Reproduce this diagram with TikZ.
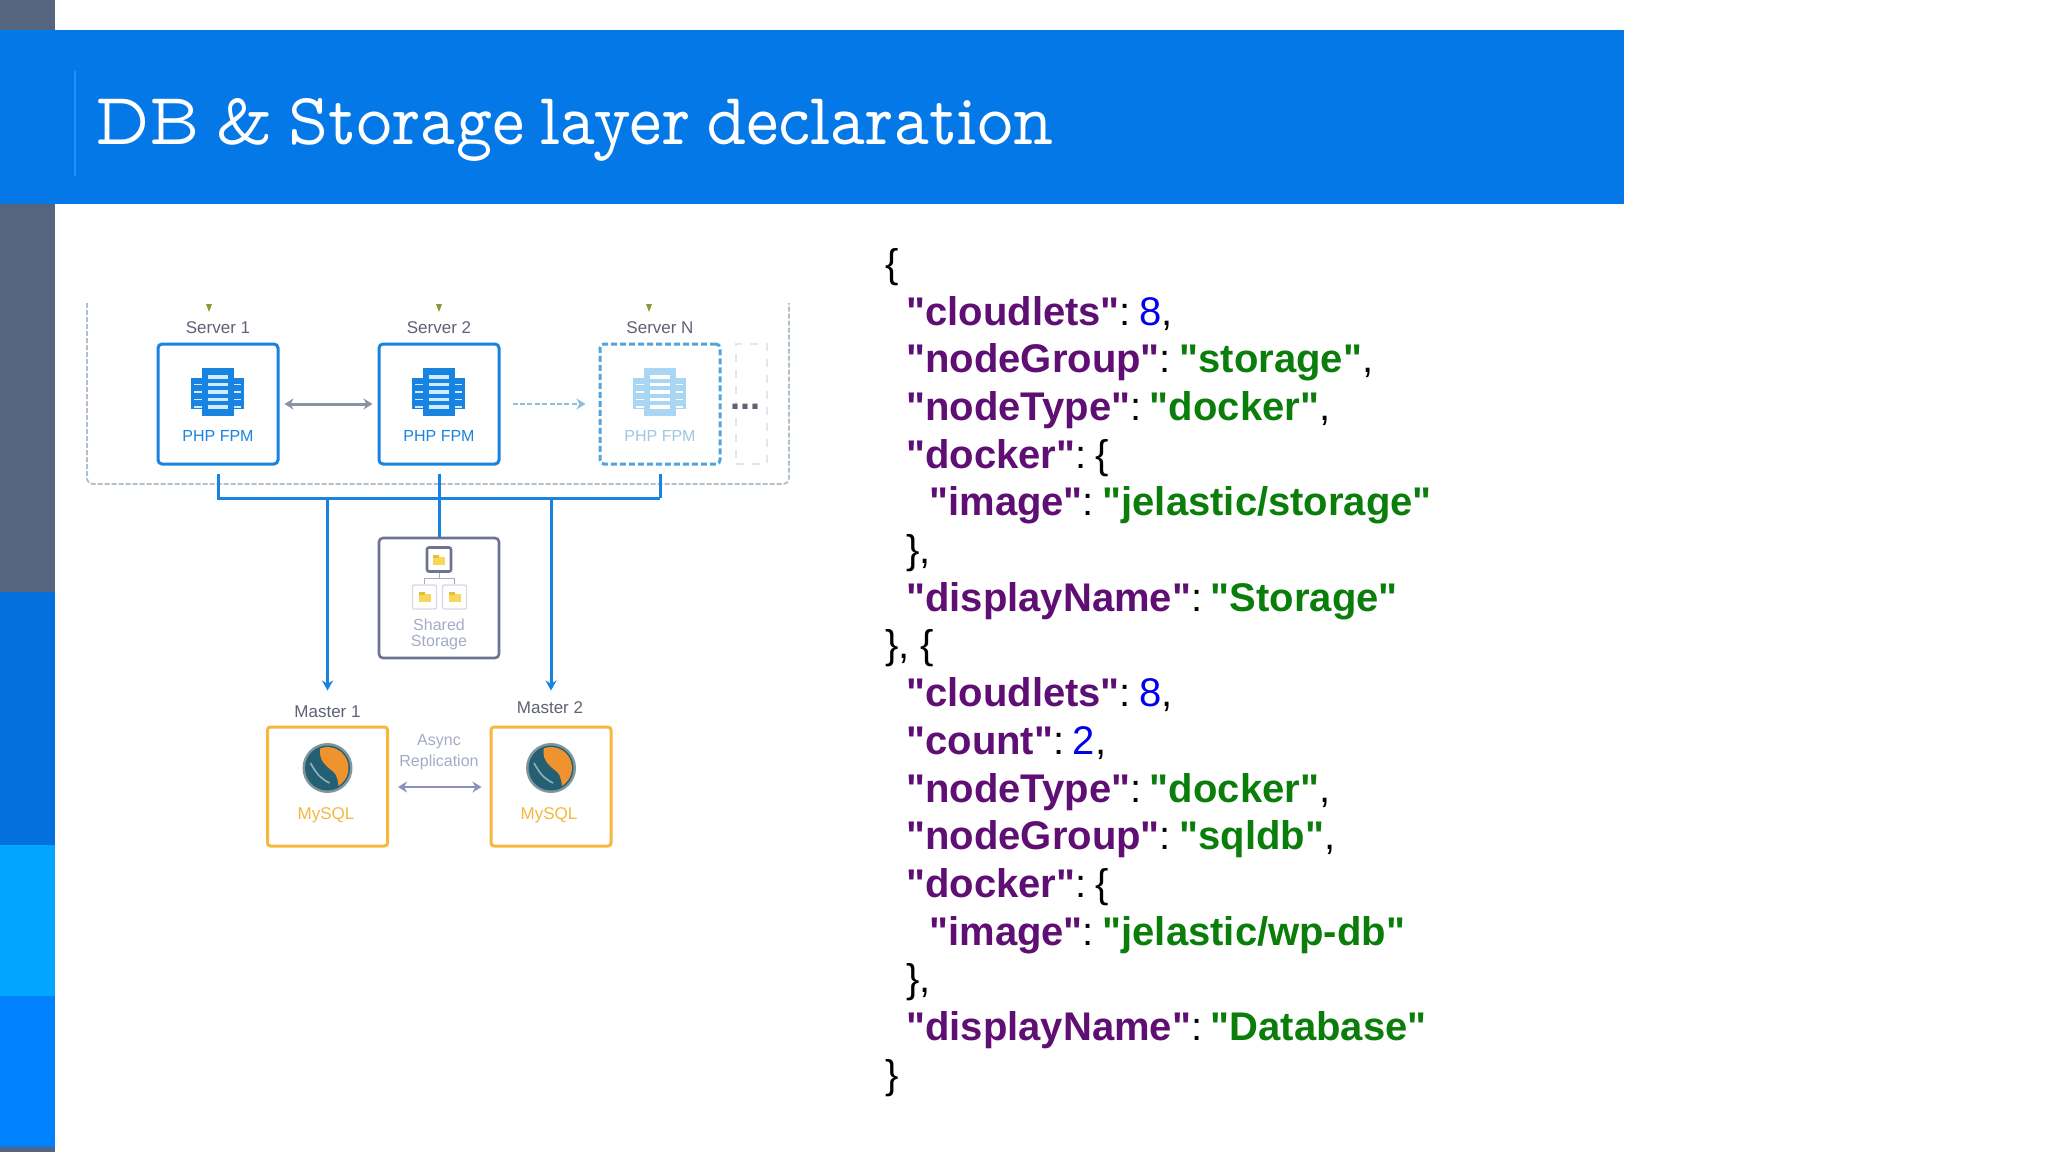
\documentclass[tikz,border=0pt]{standalone}
\usepackage{fontspec}
\setmainfont{Liberation Sans}
\newfontfamily\codefont{Liberation Sans}
\usetikzlibrary{arrows.meta}
\definecolor{slate}{HTML}{56657F}
\definecolor{bannerblue}{HTML}{0478E6}
\definecolor{sideblue}{HTML}{0470DE}
\definecolor{sidecyan}{HTML}{00A6FF}
\definecolor{sidemid}{HTML}{0082FF}
\definecolor{titlerule}{HTML}{1A92FF}
\definecolor{linkblue}{HTML}{1883E0}
\definecolor{srvtext}{HTML}{5E6274}
\definecolor{keyc}{HTML}{5F0F73}
\definecolor{strc}{HTML}{0A7D0A}
\definecolor{numc}{HTML}{0000EE}
\definecolor{ambr}{HTML}{F5B83D}
\definecolor{lavtext}{HTML}{A5ABC8}
\definecolor{lavarrow}{HTML}{8F8FC4}
\definecolor{storeln}{HTML}{6E7391}
\definecolor{grayarrow}{HTML}{8A92A5}
\definecolor{paleblue}{HTML}{A9D6F2}
\definecolor{palearrow}{HTML}{8AC0DC}
\definecolor{paletext}{HTML}{9FC8E0}
\definecolor{dashbox}{HTML}{52A5D8}
\definecolor{clusterln}{HTML}{B0C0CC}
\definecolor{morebox}{HTML}{DCE8EF}
\definecolor{filecol}{HTML}{F7D75A}
\definecolor{filedark}{HTML}{E8BE30}
\definecolor{logoteal}{HTML}{245F73}
\definecolor{logoring}{HTML}{7F979C}
\definecolor{logoorange}{HTML}{F0922E}
\definecolor{logolight}{HTML}{8FB4C0}
\definecolor{ticko}{HTML}{8A9A3A}
\definecolor{slatcol}{HTML}{CFEBFF}
\newcommand{\K}[1]{\textcolor{keyc}{\bfseries #1}:\hspace{4.3pt}}
\newcommand{\V}[1]{\textcolor{strc}{\bfseries #1}}
\newcommand{\N}[1]{\textcolor{numc}{#1}}
\newcommand{\tsp}{\hspace{-4.2pt} }
% server rack icon
\newcommand{\rackicon}[4]{%
\begin{scope}[shift={(#1,#2)}]
\fill[#3] (-27,-14) rectangle (26,17);
\foreach \yy in {-7.5,0,7.5,15}{\fill[#4] (-24,\yy-.8) rectangle (23,\yy+.8);}
\fill[#3] (-16,-24) rectangle (16,24);
\foreach \yy in {-15,-7.5,0,7.5,15}{\fill[#4] (-10,\yy-1.7) rectangle (10,\yy+1.7);}
\end{scope}}
% database logo
\newcommand{\dblogo}[2]{%
\begin{scope}[shift={(#1,#2)}]
\fill[logoring] (0,0) circle (25);
\fill[logoteal] (0,0) circle (22.5);
\begin{scope}
\clip (0,0) circle (21);
\fill[logoorange] (-6,-24) .. controls (-11,-10) and (-3,-3) .. (5,3) .. controls (11,8) and (10,14) .. (12,24) -- (26,24) -- (26,-24) -- cycle;
\draw[logolight,line width=.8pt] (-17,-5) .. controls (-12,4) and (-8,10) .. (2,15);
\end{scope}
\end{scope}}
% small file card
\newcommand{\filecard}[5]{%
\node[draw=#3,line width=#4,fill=white,rounded corners=1pt,minimum width=12pt,minimum height=12pt,inner sep=0pt] (#5) at (#1,#2) {};
\fill[filecol] (#1-6,#2-3) rectangle (#1+6,#2+5);
\fill[filedark] (#1-6,#2-5) rectangle (#1,#2-2);
}
\tikzset{
  srvbox/.style={draw=linkblue,line width=1.5pt,rounded corners=2pt,minimum width=60pt,minimum height=60pt,inner sep=0pt},
  srvdash/.style={srvbox,draw=dashbox,dash pattern=on 3pt off 1.5pt},
  storebox/.style={draw=storeln,line width=1.3pt,rounded corners=2pt,minimum width=60pt,minimum height=60pt,inner sep=0pt},
  dbbox/.style={draw=ambr,line width=1.5pt,rounded corners=1.5pt,minimum width=60pt,minimum height=59.5pt,inner sep=0pt},
  lab/.style={font=\fontsize{8.5pt}{9pt}\selectfont,text=srvtext,inner sep=0pt},
  phplab/.style={font=\fontsize{8pt}{9pt}\selectfont,text=linkblue,inner sep=0pt},
  dblab/.style={font=\fontsize{8.5pt}{9pt}\selectfont,text=ambr,inner sep=0pt},
  softlab/.style={font=\fontsize{8pt}{9pt}\selectfont,text=lavtext,inner sep=0pt},
  busline/.style={draw=linkblue,line width=1.5pt},
  busarrow/.style={busline,-{Stealth[length=5pt,width=5.5pt]}},
  code/.style={font=\codefont\fontsize{20pt}{24pt}\selectfont,anchor=base west,inner sep=0pt},
  titletext/.style={font=\fontfamily{lmvtt}\fontsize{37pt}{40pt}\selectfont,text=white,anchor=base west,inner sep=0pt},
  tick/.style={fill=ticko}
}
\begin{document}
\begin{tikzpicture}[x=.5pt,y=-.5pt]
\useasboundingbox (0,0) rectangle (2048,1152);
\fill[white] (0,0) rectangle (2048,1152);
% side strip
\fill[slate] (0,0) rectangle (55,592);
\fill[sideblue] (0,592) rectangle (55,845);
\fill[sidecyan] (0,845) rectangle (55,996);
\fill[sidemid] (0,996) rectangle (55,1147);
\fill[slate] (0,1147) rectangle (55,1152);
% banner
\fill[bannerblue] (0,30) rectangle (1624,204);
\draw[titlerule,line width=.8pt] (75,71) -- (75,176);
\node[titletext] (title) at (95,144) {\scalebox{.93}[1]{DB\tsp \&\tsp Storage\tsp layer\tsp declaration}};

% outer cluster outline
\coordinate (olt) at (87,303);
\coordinate (olb) at (87,484);
\coordinate (orb) at (789,484);
\coordinate (ort) at (789,303);
\draw[draw=clusterln,line width=.9pt,dash pattern=on 2.5pt off 1pt,rounded corners=3pt] (olt) -- (olb) -- (orb) -- (ort);

% servers
\node[srvbox] (s1) at (218,404) {};
\node[srvbox] (s2) at (439,404) {};
\node[srvdash] (sn) at (660,404) {};
\node[minimum width=15.5pt,minimum height=60pt,inner sep=0pt,draw=morebox,line width=.7pt,dash pattern=on 4pt off 4pt] (more) at (751.5,404) {};
\rackicon{218}{392}{linkblue}{slatcol}
\rackicon{439}{392}{linkblue}{slatcol}
\rackicon{660}{392}{paleblue}{white}
\node[phplab] (p1) at (218,436) {PHP FPM};
\node[phplab] (p2) at (439,436) {PHP FPM};
\node[phplab,text=paletext] (pn) at (660,436) {PHP FPM};
\node[lab] (l1) at (218,328) {Server 1};
\node[lab] (l2) at (439,328) {Server 2};
\node[lab] (ln) at (660,328) {Server N};
\fill[tick] (206,304) -- (212,304) -- (209,312) -- cycle;
\fill[tick] (436,304) -- (442,304) -- (439,312) -- cycle;
\fill[tick] (646,304) -- (652,304) -- (649,312) -- cycle;
\node[font=\bfseries\fontsize{18pt}{20pt}\selectfont,text=srvtext,inner sep=0pt,anchor=base] (dots) at (745,409) {...};

\draw[{Stealth[length=4.5pt,width=5.5pt]}-{Stealth[length=4.5pt,width=5.5pt]},draw=grayarrow,line width=1.5pt,shorten <=2.5pt,shorten >=2.5pt] (s1.east) -- (s2.west);
\draw[-{Stealth[length=4.5pt,width=5.5pt]},draw=palearrow,line width=1.3pt,dash pattern=on 2.5pt off 1.2pt,shorten <=6pt,shorten >=6.5pt] (s2.east) -- (sn.west);

% shared storage
\node[storebox] (store) at (439,598) {};
\filecard{439}{559.5}{storeln}{1.3pt}{fa}
\filecard{424.5}{597}{lavtext!45!white}{.7pt}{fb}
\filecard{454.5}{597}{lavtext!45!white}{.7pt}{fc}
\coordinate (fj) at (439,578);
\draw[draw=lavtext,line width=.5pt] (fa.south) -- (fj);
\draw[draw=lavtext,line width=.5pt] (fj -| fb.north) -- (fj -| fc.north);
\draw[draw=lavtext,line width=.5pt] (fj -| fb.north) -- (fb.north);
\draw[draw=lavtext,line width=.5pt] (fj -| fc.north) -- (fc.north);
\node[softlab] (sh1) at (439,625) {Shared};
\node[softlab] (sh2) at (439,643) {Storage};

% masters
\node[dbbox] (m1) at (327.5,786.5) {};
\node[dbbox] (m2) at (551,786.5) {};
\dblogo{327.5}{768}
\dblogo{551}{768}
\node[dblab] (d1) at (326,815) {MySQL};
\node[dblab] (d2) at (549,815) {MySQL};
\node[lab] (ml1) at (327.5,712) {Master 1};
\node[lab] (ml2) at (550,708) {Master 2};
\node[softlab] (as1) at (439,742) {Async};
\node[softlab] (as2) at (439,762) {Replication};
\draw[{Stealth[length=4.5pt,width=5.5pt]}-{Stealth[length=4.5pt,width=5.5pt]},draw=lavarrow,line width=1.3pt,shorten <=4.5pt,shorten >=4pt] (m1.east |- 0,787) -- (m2.west |- 0,787);

% bus
\coordinate (busl) at (s1.south |- 0,498);
\coordinate (busr) at (sn.south |- 0,498);
\coordinate (busa) at (m1.north |- 0,498);
\coordinate (busb) at (m2.north |- 0,498);
\draw[busline,shorten <=4pt] (s1.south) -- (busl) -- (busr);
\draw[busline,shorten <=4pt] (sn.south) -- (busr);
\draw[busline,shorten <=4pt] (s2.south) -- (store.north);
\draw[busarrow,shorten >=17.5pt] (busa) -- (m1.north);
\draw[busarrow,shorten >=17.5pt] (busb) -- (m2.north);

% declaration text
\node[code] (j0) at (885,277) {\{};
\node[code] (j1) at (906,325) {\K{"cloudlets"}\N{8},};
\node[code] (j2) at (906,372.7) {\K{"nodeGroup"}\V{"storage"},};
\node[code] (j3) at (906,420.4) {\K{"nodeType"}\V{"docker"},};
\node[code] (j4) at (906,468.1) {\K{"docker"}\{};
\node[code] (j5) at (929,515.8) {\K{"image"}\V{"jelastic/storage"}};
\node[code] (j6) at (906,563.5) {\},};
\node[code] (j7) at (906,611.2) {\K{"displayName"}\V{"Storage"}};
\node[code] (j8) at (885,658.9) {\}, \{};
\node[code] (j9) at (906,706.6) {\K{"cloudlets"}\N{8},};
\node[code] (j10) at (906,754.3) {\K{"count"}\N{2},};
\node[code] (j11) at (906,802) {\K{"nodeType"}\V{"docker"},};
\node[code] (j12) at (906,849.7) {\K{"nodeGroup"}\V{"sqldb"},};
\node[code] (j13) at (906,897.4) {\K{"docker"}\{};
\node[code] (j14) at (929,945.1) {\K{"image"}\V{"jelastic/wp-db"}};
\node[code] (j15) at (906,992.8) {\},};
\node[code] (j16) at (906,1040.5) {\K{"displayName"}\V{"Database"}};
\node[code] (j17) at (885,1088.2) {\}};
\end{tikzpicture}
\end{document}
